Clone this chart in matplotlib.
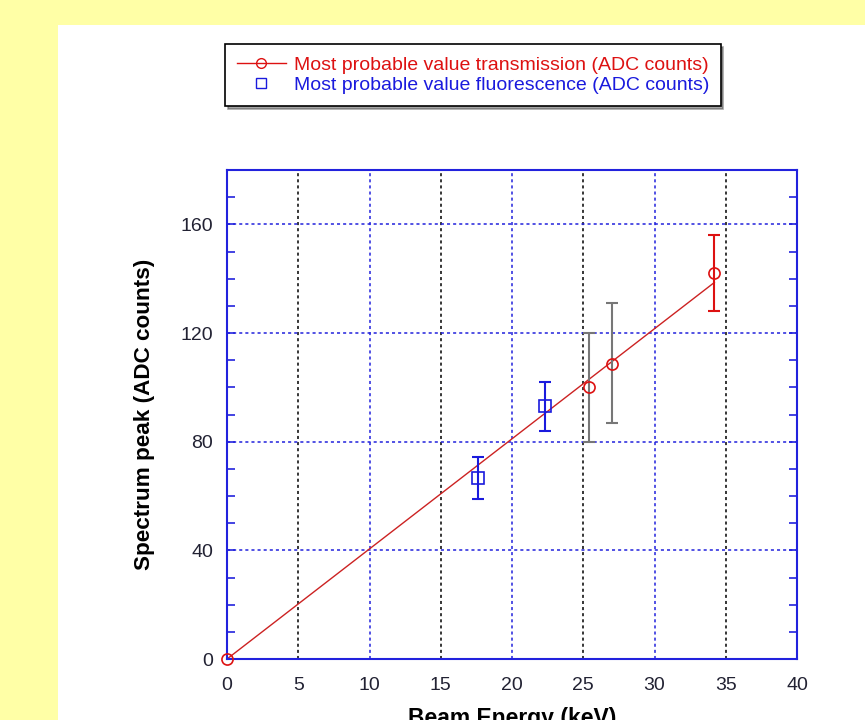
import matplotlib.pyplot as plt
from matplotlib.patches import Rectangle

plt.rcParams['font.family'] = ['Liberation Sans', 'DejaVu Sans']

# transmission points (ADC counts vs keV)
trans_x = [0, 25.4, 27.0, 34.2]
trans_y = [0, 100, 108.5, 142]
trans_lo = [0, 20, 21.5, 14]
trans_hi = [0, 20, 22.5, 14]

# fluorescence points
fluo_x = [17.6, 22.3]
fluo_y = [66.5, 93]
fluo_lo = [7.5, 9]
fluo_hi = [8, 9]

# linear fit
fit_x = [0, 34.2]
fit_y = [0, 138.6]

fig = plt.figure(figsize=(8.65, 7.2), dpi=100)
fig.patch.set_facecolor('#ffffa6')
fig.patches.append(Rectangle((58 / 865, 0), 1, 1 - 25 / 720, transform=fig.transFigure,
                             facecolor='white', edgecolor='none', zorder=-5))

ax = fig.add_axes([227 / 865, 61 / 720, 570 / 865, 489 / 720])
ax.set_zorder(2)
ax.set_xlim(0, 40)
ax.set_ylim(0, 180)

for i, x in enumerate(range(5, 40, 5)):
    c = 'black' if i % 2 == 0 else '#2222dd'
    ax.axvline(x, color=c, ls=(0, (2, 2)), lw=1.1, zorder=1)
for y in [40, 80, 120, 160]:
    ax.axhline(y, color='#2222dd', ls=(0, (2, 2)), lw=1.1, zorder=1)

ax.plot(fit_x, fit_y, color='#cc2222', lw=1, zorder=2)

# error bars
ecols = ['#cc2222', '#777777', '#777777', '#dd1111']
for x, y, lo, hi, c in zip(trans_x[1:], trans_y[1:], trans_lo[1:], trans_hi[1:], ecols[1:]):
    ax.errorbar([x], [y], yerr=[[lo], [hi]], fmt='none', ecolor=c, elinewidth=1.5,
                capsize=4, capthick=1.5, zorder=3)
ax.errorbar(fluo_x, fluo_y, yerr=[fluo_lo, fluo_hi], fmt='none', ecolor='#1a1add',
            elinewidth=1.5, capsize=4, capthick=1.5, zorder=3)

ax.plot(trans_x, trans_y, 'o', ms=8, mfc='none', mec='#dd1111', mew=1.2, zorder=4,
        clip_on=False)
ax.plot(fluo_x, fluo_y, 's', ms=8, mfc='none', mec='#1a1add', mew=1.2, zorder=4)

ax.set_xticks(range(0, 41, 5))
ax.set_yticks([0, 40, 80, 120, 160])
ax.set_yticks(range(0, 181, 10), minor=True)
ax.tick_params(axis='y', which='both', direction='in', left=True, right=True, length=6,
               color='#2222dd', width=1.2, labelsize=14, labelcolor='#222233', pad=10)
ax.tick_params(axis='x', direction='in', length=0, labelsize=14, labelcolor='#222233', pad=13)
for s in ax.spines.values():
    s.set_color('#2222dd')
    s.set_linewidth(1.5)

ax.set_xlabel('Beam Energy (keV)', fontsize=16.5, fontweight='bold', labelpad=9)
ax.set_ylabel('Spectrum peak (ADC counts)', fontsize=16.2, fontweight='bold', labelpad=18)

h1, = ax.plot([], [], '-o', color='#dd1111', ms=7, mfc='none', lw=1)
h2, = ax.plot([], [], 's', color='#1a1add', ms=7, mfc='none', ls='none')
leg = fig.legend([h1, h2], ['Most probable value transmission (ADC counts)',
                            'Most probable value fluorescence (ADC counts)'],
                 loc='center', bbox_to_anchor=(473 / 865, 1 - 75 / 720), fontsize=14,
                 frameon=True, fancybox=False, shadow=True, edgecolor='black',
                 labelcolor=['#dd1111', '#1a1add'], handlelength=2.5, handletextpad=0.4,
                 borderpad=0.6, labelspacing=0.15, borderaxespad=0)
leg.get_frame().set_linewidth(1.2)

fig.savefig('out.png', dpi=100, facecolor=fig.get_facecolor())
